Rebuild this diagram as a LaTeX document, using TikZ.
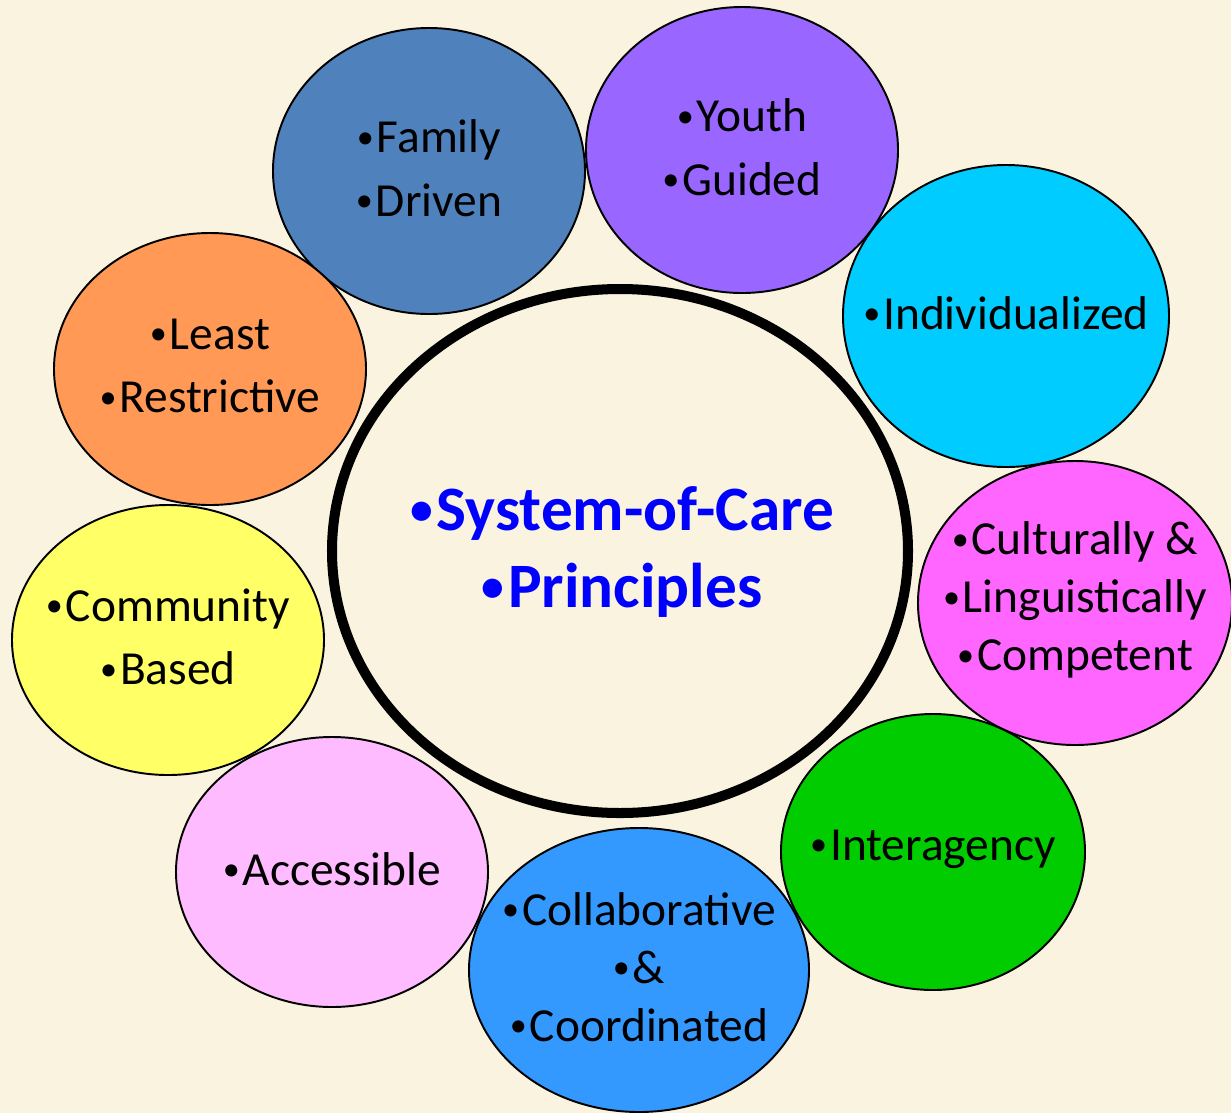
\documentclass[tikz,border=0pt]{standalone}
\usepackage{fontspec}
\setmainfont{Carlito}
\usepackage{graphicx}

\definecolor{pagebg}{HTML}{F9F3E0}
\definecolor{famblue}{HTML}{4F81BD}
\definecolor{youthviolet}{HTML}{9966FF}
\definecolor{indivcyan}{HTML}{00CCFF}
\definecolor{cultpink}{HTML}{FF66FF}
\definecolor{intergreen}{HTML}{00CC00}
\definecolor{collabblue}{HTML}{3399FF}
\definecolor{accesspink}{HTML}{FFBBFF}
\definecolor{commyellow}{HTML}{FFFF66}
\definecolor{leastorange}{HTML}{FF9955}

% small Calibri-like bullet
\newcommand{\bul}{\makebox[0.42em][l]{\raisebox{0.1em}{\scalebox{0.72}{•}}}}

\tikzset{
  bubble/.style={draw=black, line width=1.1pt},
  bubbletext/.style={align=center, inner sep=0pt, yshift=1.6pt},
  hubtext/.style={align=center, inner sep=0pt, text=blue,
    font=\fontsize{36}{44}\selectfont\bfseries}
}

\begin{document}
\begin{tikzpicture}[x=0.02cm, y=-0.02cm]

% Page background (1231 x 1113 px)
\fill[pagebg] (0,0) rectangle (1231,1113);
\useasboundingbox (0,0) rectangle (1231,1113);

% Central circle
\draw[line width=5.7pt] (620,551) ellipse [x radius=288, y radius=262];
\node[hubtext] (soc) at (622,552) {\bul System-of-Care\\\bul Principles};

% Surrounding principles: name/x/y/rx/ry/colour/leading/text
\foreach \nm/\cx/\cy/\rx/\ry/\col/\lead/\txt in {
    fam/429/171/156/143/famblue/36/{\bul Family\\\bul Driven},
    youth/742/150/156/143/youthviolet/36/{\bul Youth\\\bul Guided},
    indiv/1006/316/163/151/indivcyan/36/{\bul Individualized},
    cult/1075/603/157/142/cultpink/33/{\bul Culturally \&\\\bul Linguistically\\\bul Competent},
    inter/933/852/152/138/intergreen/36/{\bul Interagency},
    collab/639/970/170/142/collabblue/33/{\bul Collaborative\\\bul\&\\\bul Coordinated},
    access/332/872/156/135/accesspink/36/{\bul Accessible},
    comm/168/640/156/135/commyellow/36/{\bul Community\\\bul Based},
    least/210/369/156/136/leastorange/36/{\bul Least\\\bul Restrictive}} {
  \filldraw[bubble, fill=\col] (\cx,\cy) ellipse [x radius=\rx, y radius=\ry];
  \node[bubbletext, font=\fontsize{27}{\lead}\selectfont] (\nm) at (\cx,\cy) {\txt};
}

\end{tikzpicture}
\end{document}
